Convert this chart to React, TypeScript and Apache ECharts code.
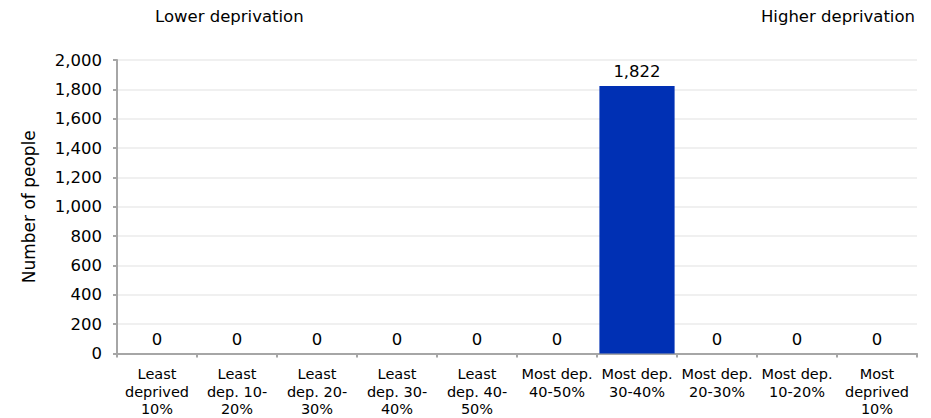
import React, { useEffect, useRef } from "react";
import * as echarts from "echarts";

const categories = [
  "Least\ndeprived\n10%",
  "Least\ndep. 10-\n20%",
  "Least\ndep. 20-\n30%",
  "Least\ndep. 30-\n40%",
  "Least\ndep. 40-\n50%",
  "Most dep.\n40-50%",
  "Most dep.\n30-40%",
  "Most dep.\n20-30%",
  "Most dep.\n10-20%",
  "Most\ndeprived\n10%",
];
const values = [0, 0, 0, 0, 0, 0, 1822, 0, 0, 0];
const yAxisTitle = "Number of people";
const leftNote = "Lower deprivation";
const rightNote = "Higher deprivation";

const FONT = "'DejaVu Sans', 'Liberation Sans', Arial, sans-serif";

export default function App() {
  const ref = useRef<HTMLDivElement>(null);
  useEffect(() => {
    if (!ref.current) return;
    const chart = echarts.init(ref.current, undefined, { renderer: "svg" });
    chart.setOption({
      animation: false,
      textStyle: { fontFamily: FONT },
      grid: { left: 117, right: 14, top: 60, bottom: 64, containLabel: false },
      graphic: [
        {
          type: "text",
          left: 155,
          top: 8,
          style: { text: leftNote, fontSize: 16.5, fill: "#000", fontFamily: FONT },
        },
        {
          type: "text",
          right: 16,
          top: 8,
          style: { text: rightNote, fontSize: 16.5, fill: "#000", fontFamily: FONT },
        },
      ],
      xAxis: {
        type: "category",
        data: categories,
        axisLine: { lineStyle: { color: "#a6a6a6", width: 2 } },
        axisTick: { show: true, length: 4, lineStyle: { color: "#a6a6a6", width: 2 } },
        axisLabel: {
          color: "#000",
          fontSize: 14.5,
          lineHeight: 17.5,
          margin: 12,
          interval: 0,
          fontFamily: FONT,
        },
      },
      yAxis: {
        type: "value",
        min: 0,
        max: 2000,
        interval: 200,
        name: yAxisTitle,
        nameLocation: "middle",
        nameGap: 80,
        nameTextStyle: { fontSize: 17, color: "#000", fontFamily: FONT },
        axisLine: { show: true, lineStyle: { color: "#a6a6a6", width: 2 } },
        axisTick: { show: true, length: 4, lineStyle: { color: "#a6a6a6", width: 2 } },
        axisLabel: {
          color: "#000",
          fontSize: 16.5,
          margin: 15,
          fontFamily: FONT,
          formatter: (v: number) => v.toLocaleString("en-US"),
        },
        splitLine: { lineStyle: { color: "#ebebeb", width: 1.5 } },
      },
      series: [
        {
          type: "bar",
          data: values,
          barCategoryGap: "6%",
          itemStyle: { color: "#0030b4" },
          label: {
            show: true,
            position: "top",
            distance: 6,
            color: "#000",
            fontSize: 16.5,
            fontFamily: FONT,
            formatter: (p: any) => Number(p.value).toLocaleString("en-US"),
          },
        },
      ],
    });
    return () => chart.dispose();
  }, []);
  return (
    <div
      ref={ref}
      style={{ position: "absolute", left: 0, top: 0, width: 931, height: 418 }}
    />
  );
}
